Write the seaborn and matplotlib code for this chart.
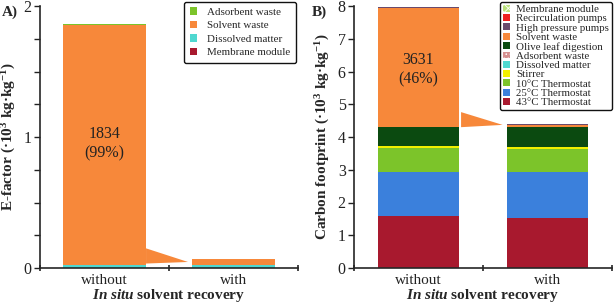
import numpy as np
import pandas as pd
import matplotlib
matplotlib.use("Agg")
import matplotlib.pyplot as plt
from matplotlib.patches import Patch, Polygon
import seaborn as sns

# ---------------- data ----------------
conditions = ["without", "with"]

# Panel A (E-factor, 10^3 kg/kg), bottom -> top
a_components = ["Membrane module", "Dissolved matter", "Solvent waste", "Adsorbent waste"]
a_without = [0.001, 0.020, 1.834, 0.006]
a_with = [0.001, 0.020, 0.050, 0.001]
a_colors = ["#a8192e", "#4fd8d0", "#f7883a", "#7cc42a"]

# Panel B (Carbon footprint, 10^3 kg/kg), bottom -> top
b_components = ["43°C Thermostat", "25°C Thermostat", "10°C Thermostat", "Stirrer",
                "Dissolved matter", "Adsorbent waste", "Olive leaf digestion",
                "Solvent waste", "High pressure pumps", "Recirculation pumps",
                "Membrane module"]
b_without = [1.58, 1.36, 0.71, 0.06, 0.005, 0.010, 0.590, 3.631, 0.030, 0.004, 0.002]
b_with = [1.54, 1.38, 0.71, 0.06, 0.005, 0.010, 0.595, 0.080, 0.010, 0.003, 0.002]
b_colors = ["#a8192e", "#3b80dc", "#7cc42a", "#f2f000", "#4fd8d0", "#d69090",
            "#0b4a10", "#f7883a", "#6a4a6c", "#ee2020", "#b8e07a"]
b_hatch = ["", "", "", "", "", "....", "", "", "", "", "xxxx"]

a_label = ("1834", "(99%)")
b_label = ("3631", "(46%)")

# ---------------- style ----------------
sns.set_theme(style="ticks")
plt.rcParams["font.family"] = ["Liberation Serif", "DejaVu Serif"]
plt.rcParams["mathtext.fontset"] = "custom"
plt.rcParams["mathtext.rm"] = "Liberation Serif"
plt.rcParams["mathtext.it"] = "Liberation Serif:italic"
plt.rcParams["mathtext.bf"] = "Liberation Serif:bold"
plt.rcParams["mathtext.bfit"] = "Liberation Serif:italic:bold"
plt.rcParams["hatch.linewidth"] = 0.6

fig = plt.figure(figsize=(6.14, 3.03), dpi=100)
axA = fig.add_axes([40 / 614, 1 - 268 / 303, 258 / 614, 262 / 303])
axB = fig.add_axes([354 / 614, 1 - 268 / 303, 258 / 614, 262 / 303])


def stacked(ax, comps, without, with_, colors, width, hatches=None):
    cum_wo = np.cumsum(without)
    cum_w = np.cumsum(with_)
    handles = []
    for i in range(len(comps) - 1, -1, -1):
        df = pd.DataFrame({"cond": conditions, "val": [cum_wo[i], cum_w[i]]})
        sns.barplot(data=df, x="cond", y="val", order=conditions, color=colors[i],
                    width=width, ax=ax, saturation=1, linewidth=0, errorbar=None)
        h = hatches[i] if hatches else ""
        handles.append(Patch(facecolor=colors[i], edgecolor="#ffffff" if h else colors[i],
                             hatch=h, linewidth=0, label=comps[i]))
    return handles


hA = stacked(axA, a_components, a_without, a_with, a_colors, 0.64)
hB = stacked(axB, b_components, b_without, b_with, b_colors, 0.63, b_hatch)

for ax in (axA, axB):
    ax.set_xlim(-0.5, 1.5)
    sns.despine(ax=ax)
    ax.spines["left"].set_linewidth(1.2)
    ax.spines["bottom"].set_linewidth(1.2)
    ax.set_xticks([0, 1])
    ax.set_xticks([-0.5, 0.5, 1.5], minor=True)
    ax.tick_params(axis="x", which="major", length=0, labelsize=11, pad=4, colors="#222222")
    ax.tick_params(axis="x", which="minor", length=5, width=1.2, direction="inout")
    ax.tick_params(axis="y", which="both", length=4, width=1.0, labelsize=11.5,
                   pad=2, colors="#222222")
    ax.set_xlabel(r"$\mathbfit{In\ situ}$ solvent recovery", fontsize=11,
                  fontweight="bold", labelpad=0)

axA.set_ylim(0, 2)
axA.set_yticks([0, 1, 2])
axA.set_yticks(np.arange(0, 2.01, 0.25), minor=True)
axA.set_ylabel(r"E-factor (·10$^{\mathbf{3}}$ kg·kg$^{\mathbf{-1}}$)", fontsize=11,
               fontweight="bold", labelpad=4)

axB.set_ylim(0, 8)
axB.set_yticks(range(0, 9))
axB.set_ylabel(r"Carbon footprint (·10$^{\mathbf{3}}$ kg·kg$^{\mathbf{-1}}$)", fontsize=11,
               fontweight="bold", labelpad=4)

# value annotations
axA.text(0, 0.95, a_label[0] + "\n" + a_label[1], ha="center", va="center",
         fontsize=11.5, linespacing=1.3, color="#222222")
axB.text(0, 6.05, b_label[0] + "\n" + b_label[1], ha="center", va="center",
         fontsize=11.5, linespacing=1.3, color="#222222")

# arrows between bars
axA.add_patch(Polygon([(0.322, 0.150), (0.647, 0.046), (0.322, 0.034)],
                      closed=True, facecolor="#f7883a", edgecolor="none", zorder=3))
axB.add_patch(Polygon([(0.330, 4.76), (0.652, 4.37), (0.330, 4.30)],
                      closed=True, facecolor="#f7883a", edgecolor="none", zorder=3))

# legends
legA = axA.legend(handles=hA, loc="upper right", bbox_to_anchor=(1.0, 1.025),
                  fontsize=7.9, frameon=True, fancybox=True, handlelength=0.7,
                  handleheight=0.7, handletextpad=0.9, labelspacing=0.35,
                  borderpad=0.5, borderaxespad=0.2, edgecolor="#111111")
legA.get_frame().set_linewidth(1.0)
legA.get_frame().set_alpha(1)

legB = axB.legend(handles=hB, loc="upper right", bbox_to_anchor=(1.01, 1.025),
                  fontsize=7.8, frameon=True, fancybox=True, handlelength=0.6,
                  handleheight=0.6, handletextpad=0.6, labelspacing=0.0,
                  borderpad=0.3, borderaxespad=0.2, edgecolor="#111111")
legB.get_frame().set_linewidth(1.0)
legB.get_frame().set_alpha(1)

# panel labels
fig.text(2 / 614, 1 - 12 / 303, "A)", fontsize=11, fontweight="bold", va="center")
fig.text(312 / 614, 1 - 12 / 303, "B)", fontsize=11, fontweight="bold", va="center")

fig.savefig("out.png", dpi=100)
